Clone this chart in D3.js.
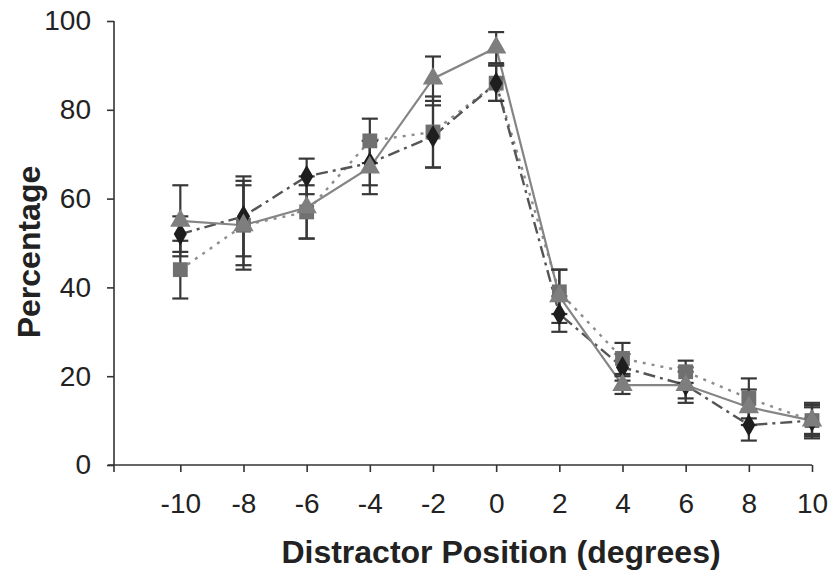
<!DOCTYPE html>
<html>
<head>
<meta charset="utf-8">
<script src="https://cdn.jsdelivr.net/npm/d3@7"></script>
<style>
  body { margin: 0; background: #fff; }
  text { font-family: "Liberation Sans", Arial, sans-serif; fill: #222; }
</style>
</head>
<body>
<svg id="chart" width="828" height="579"></svg>
<script>
// distractor positions (degrees)
var positions = [-10, -8, -6, -4, -2, 0, 2, 4, 6, 8, 10];
var yTicks = [0, 20, 40, 60, 80, 100];

// triangle series, solid line
var triVals = [55, 54, 58, 67, 87, 94, 38, 18, 18, 13, 10];
var triErr  = [8, 10, 7, 6, 5, 3.5, 6, 2, 4, 4, 4];
// diamond series, dash-dot line
var diaVals = [52, 56, 65, 68, 74, 86, 34, 22, 18, 9, 10];
var diaErr  = [4, 9, 4, 5, 7, 4, 4, 3, 3, 3.5, 3];
// square series, dotted line
var sqVals  = [44, 54, 57, 73, 75, 86, 39, 24, 21, 15, 10];
var sqErr   = [6.5, 9, 6, 5, 8, 4, 5, 3.5, 2.5, 4.5, 3.5];

var series = [
  { vals: sqVals,  err: sqErr,  symbol: d3.symbolSquare,  size: 220, fill: "#707070", stroke: "#8c8c8c", dash: "3,6", width: 2.4 },
  { vals: diaVals, err: diaErr, symbol: d3.symbolDiamond, size: 150, fill: "#1e1e1e", stroke: "#555", dash: "12,5,3,5", width: 2.4 },
  { vals: triVals, err: triErr, symbol: d3.symbolTriangle, size: 180, fill: "#7e7e7e", stroke: "#858585", dash: null, width: 2.2 }
];

var svg = d3.select("#chart");

var x = d3.scaleLinear().domain([-12.1, 10]).range([114, 812]);
var y = d3.scaleLinear().domain([0, 100]).range([465, 21]);

var fmt = function(d) { return String(d); };

// axes
var yAxis = d3.axisLeft(y).tickValues(yTicks).tickFormat(fmt).tickSize(7).tickPadding(16);
var gy = svg.append("g").attr("transform", "translate(114,0)").call(yAxis);
gy.select(".domain").attr("d", "M0,21V472").attr("stroke", "#333").attr("stroke-width", 1.6);
gy.selectAll(".tick line").attr("stroke", "#333").attr("stroke-width", 1.6);
gy.selectAll(".tick text").attr("font-size", 28).style("fill", "#222");

var xAxis = d3.axisBottom(x).tickValues(positions).tickFormat(fmt).tickSize(7).tickPadding(21);
var gx = svg.append("g").attr("transform", "translate(0,465)").call(xAxis);
gx.select(".domain").attr("d", "M108,0H812").attr("stroke", "#333").attr("stroke-width", 1.6);
gx.selectAll(".tick line").attr("stroke", "#333").attr("stroke-width", 1.6);
gx.selectAll(".tick text").attr("font-size", 28).style("fill", "#222");

// lines
var line = d3.line()
  .x(function(d, i) { return x(positions[i]); })
  .y(function(d) { return y(d); });

series.forEach(function(s) {
  svg.append("path")
    .datum(s.vals)
    .attr("d", line)
    .attr("fill", "none")
    .attr("stroke", s.stroke)
    .attr("stroke-width", s.width)
    .attr("stroke-dasharray", s.dash);
});

// error bars
var cap = 8;
series.forEach(function(s) {
  var g = svg.append("g").attr("stroke", "#383838").attr("stroke-width", 2.2);
  s.vals.forEach(function(v, i) {
    var cx = x(positions[i]), top = y(v + s.err[i]), bot = y(v - s.err[i]);
    g.append("line").attr("x1", cx).attr("x2", cx).attr("y1", top).attr("y2", bot);
    g.append("line").attr("x1", cx - cap).attr("x2", cx + cap).attr("y1", top).attr("y2", top);
    g.append("line").attr("x1", cx - cap).attr("x2", cx + cap).attr("y1", bot).attr("y2", bot);
  });
});

// markers
series.forEach(function(s) {
  svg.append("g").selectAll("path")
    .data(s.vals)
    .join("path")
    .attr("d", d3.symbol().type(s.symbol).size(s.size))
    .attr("transform", function(d, i) { return "translate(" + x(positions[i]) + "," + y(d) + ")"; })
    .attr("fill", s.fill);
});

// axis titles
svg.append("text")
  .attr("transform", "translate(40,252) rotate(-90)")
  .attr("text-anchor", "middle")
  .attr("font-size", 32)
  .attr("font-weight", "bold")
  .text("Percentage");

svg.append("text")
  .attr("x", 501)
  .attr("y", 563)
  .attr("text-anchor", "middle")
  .attr("font-size", 32)
  .attr("font-weight", "bold")
  .text("Distractor Position (degrees)");
</script>
</body>
</html>
